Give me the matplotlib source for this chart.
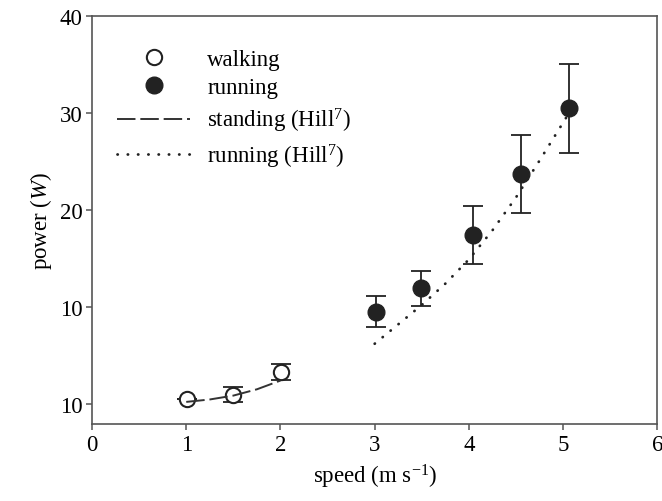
import numpy as np
import matplotlib
matplotlib.use('Agg')
from matplotlib import pyplot as plt

walk_speed = [1.01, 1.50, 2.01]
walk_power = [0.45, 0.95, 3.3]
walk_err = [0.0, 0.8, 0.85]

run_speed = [3.01, 3.49, 4.04, 4.55, 5.06]
run_power = [9.5, 11.9, 17.4, 23.7, 30.5]
run_err = [1.6, 1.8, 3.0, 4.05, 4.6]

# Hill model curves
stand_speed = [1.0, 1.25, 1.5, 1.75, 2.0]
stand_power = [0.2, 0.45, 0.85, 1.5, 2.4]
hill_speed = [3.0, 3.25, 3.5, 3.75, 4.0, 4.25, 4.5, 4.75, 5.05]
hill_power = [6.2, 8.2, 10.2, 12.4, 14.9, 17.9, 21.3, 25.1, 29.8]

yticks = [0, 10, 20, 30, 40]
ytick_labels = ['10', '10', '20', '30', '40']

plt.rcParams['font.family'] = ['Liberation Serif', 'DejaVu Serif']
plt.rcParams['mathtext.fontset'] = 'custom'
plt.rcParams['mathtext.rm'] = 'Liberation Serif'
plt.rcParams['mathtext.it'] = 'Liberation Serif:italic'
plt.rcParams['font.size'] = 16.5

fig = plt.figure(figsize=(6.62, 5.02), dpi=100)
ax = fig.add_axes([0.139, 0.153, 0.854, 0.813])

dark = '#222222'
ax.errorbar(walk_speed, walk_power, yerr=walk_err, fmt='none', ecolor=dark,
            elinewidth=1.3, capsize=7.5, capthick=1.3, zorder=2)
ax.errorbar(run_speed, run_power, yerr=run_err, fmt='none', ecolor=dark,
            elinewidth=1.3, capsize=7.5, capthick=1.3, zorder=2)

ax.plot(walk_speed, walk_power, 'o', ms=11, mfc='white', mec=dark, mew=1.5,
        label='walking', zorder=3)
ax.plot(run_speed, run_power, 'o', ms=12, mfc=dark, mec=dark,
        label='running', zorder=3)
ax.plot(stand_speed, stand_power, color='#333333', lw=1.4,
        linestyle=(0, (9.5, 2.5)), label='standing (Hill$^{7}$)', zorder=4)
ax.plot(hill_speed, hill_power, color=dark, lw=2.0, dash_capstyle='round',
        linestyle=(0, (0.1, 3.6)), label='running (Hill$^{7}$)', zorder=4)

ax.set_xlim(0, 6)
ax.set_ylim(-2.1, 40)
ax.set_xticks(range(7))
ax.set_yticks(yticks)
ax.set_yticklabels(ytick_labels)
ax.set_xlabel('speed (m s$^{-1}$)', labelpad=5)
ax.set_ylabel('power ($\\mathit{W}$)', labelpad=4)

for s in ax.spines.values():
    s.set_color('#555555')
    s.set_linewidth(1.2)
ax.tick_params(direction='out', length=4, width=1.1, color='#555555', pad=3)

ax.legend(loc='upper left', bbox_to_anchor=(0.044, 0.92), frameon=False,
          borderpad=0, borderaxespad=0, handlelength=3.2, handletextpad=0.75,
          labelspacing=0.33, numpoints=1)

fig.savefig('out.png', dpi=100)
